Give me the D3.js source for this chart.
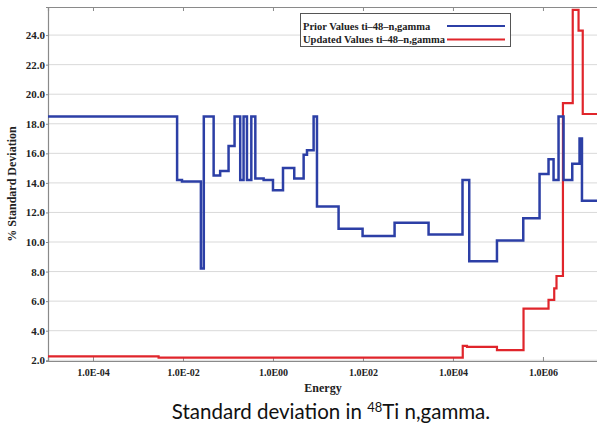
<!DOCTYPE html>
<html>
<head>
<meta charset="utf-8">
<script src="https://cdn.jsdelivr.net/npm/d3@7"></script>
<style>
  body { margin: 0; background: #fff; }
  svg { display: block; }
</style>
</head>
<body>
<div id="chart"></div>
<script>
// step data: each value holds from its energy to the next one
var priorEnergy = [1e-5, 7.4e-3, 9.5e-3, 2.5e-2, 2.9e-2, 4.8e-2, 6.7e-2, 0.103, 0.14, 0.187,
  0.222, 0.264, 0.33, 0.405, 0.62, 1.0, 1.67, 2.97, 4.8, 5.7, 8.0, 9.5, 28.7, 98, 504, 2870,
  1.63e4, 2.3e4, 9.5e4, 3.65e5, 8.4e5, 1.33e6, 1.72e6, 2.22e6, 2.87e6, 4.48e6, 6.5e6, 7.36e6, 2e7];
var priorValue = [18.5, 14.2, 14.1, 8.2, 18.5, 14.5, 14.8, 16.5, 18.5, 14.2,
  18.5, 14.2, 18.5, 14.3, 14.2, 13.5, 15.0, 14.3, 15.9, 16.2, 18.5, 12.4, 10.9, 10.4, 11.3, 10.5,
  14.2, 8.7, 10.1, 11.6, 14.6, 15.6, 14.2, 18.5, 14.2, 15.3, 17.0, 12.8, 12.8];

var updatedEnergy = [1e-5, 2.87e-3, 1.65e4, 2.05e4, 9.5e4, 3.7e5, 1.33e6, 1.78e6, 2.0e6, 2.78e6,
  4.59e6, 6.18e6, 7.66e6, 2e7];
var updatedValue = [2.26, 2.18, 2.97, 2.9, 2.69, 5.5, 6.08, 6.87, 7.7, 19.4,
  25.7, 24.3, 18.66, 18.66];

var yTicks = [2, 4, 6, 8, 10, 12, 14, 16, 18, 20, 22, 24];
var xTicks = [1e-4, 1e-2, 1, 1e2, 1e4, 1e6];
var xTickLabels = ["1.0E-04", "1.0E-02", "1.0E00", "1.0E02", "1.0E04", "1.0E06"];

var W = 597, H = 427;
var plot = {left: 48, top: 7, right: 601.5, bottom: 361};
var serif = "'Liberation Serif', 'DejaVu Serif', serif";

var svg = d3.select("#chart").append("svg")
  .attr("width", W)
  .attr("height", H);

var x = d3.scaleLog()
  .domain([1e-5, 2e7])
  .range([plot.left, plot.right]);

var y = d3.scaleLinear()
  .domain([1.95, 25.9])
  .range([plot.bottom, plot.top]);

svg.append("defs").append("clipPath").attr("id", "clip")
  .append("rect")
    .attr("x", plot.left)
    .attr("y", plot.top)
    .attr("width", plot.right - plot.left)
    .attr("height", plot.bottom - plot.top);

// horizontal grid
svg.append("g")
  .selectAll("line")
  .data(yTicks)
  .enter().append("line")
    .attr("x1", plot.left)
    .attr("x2", plot.right)
    .attr("y1", function(d) { return y(d); })
    .attr("y2", function(d) { return y(d); })
    .attr("stroke", "#d9d9d9")
    .attr("stroke-width", 1);

// left axis
var yAxis = svg.append("g")
  .attr("transform", "translate(" + plot.left + ",0)")
  .call(d3.axisLeft(y).tickValues(yTicks).tickFormat(d3.format(".1f")).tickSize(2).tickPadding(1));

// bottom axis, ticks pointing into the plot
var xAxis = svg.append("g")
  .attr("transform", "translate(0," + plot.bottom + ")")
  .call(d3.axisBottom(x).tickValues(xTicks)
    .tickFormat(function(d, i) { return xTickLabels[i]; })
    .tickSize(-4).tickPadding(8));

// top border with ticks
var topAxis = svg.append("g")
  .attr("transform", "translate(0," + plot.top + ")")
  .call(d3.axisTop(x).tickValues(xTicks).tickFormat("").tickSize(-4));

[yAxis, xAxis, topAxis].forEach(function(g) {
  g.select(".domain").attr("stroke", "#8a8a8a").attr("stroke-width", 1.2);
  g.selectAll(".tick line").attr("stroke", "#8a8a8a");
  g.selectAll(".tick text")
    .attr("fill", "#222")
    .style("font-family", serif)
    .style("font-weight", "bold")
    .style("font-size", "11px");
});
xAxis.selectAll(".tick text").style("font-size", "10px");

var line = d3.line()
  .x(function(d) { return x(d[0]); })
  .y(function(d) { return y(d[1]); })
  .curve(d3.curveStepAfter);

var lines = svg.append("g").attr("clip-path", "url(#clip)");

lines.append("path")
  .datum(d3.zip(updatedEnergy, updatedValue))
  .attr("d", line)
  .attr("fill", "none")
  .attr("stroke", "#e0252b")
  .attr("stroke-width", 2.2);

lines.append("path")
  .datum(d3.zip(priorEnergy, priorValue))
  .attr("d", line)
  .attr("fill", "none")
  .attr("stroke", "#2c3fa6")
  .attr("stroke-width", 2.5);

// legend
var legend = svg.append("g");
legend.append("rect")
  .attr("x", 300.5)
  .attr("y", 13.5)
  .attr("width", 210)
  .attr("height", 33)
  .attr("fill", "#fff")
  .attr("stroke", "#555")
  .attr("stroke-width", 1);

var legendItems = [
  {label: "Prior Values ti\u201348\u2013n,gamma", color: "#2c3fa6"},
  {label: "Updated Values ti\u201348\u2013n,gamma", color: "#e0252b"}
];
legendItems.forEach(function(d, i) {
  var cy = 26 + i * 13.5;
  legend.append("text")
    .attr("x", 303)
    .attr("y", cy + 3.5)
    .attr("fill", "#222")
    .style("font-family", serif)
    .style("font-weight", "bold")
    .style("font-size", "10.5px")
    .text(d.label);
  legend.append("line")
    .attr("x1", 447)
    .attr("x2", 505)
    .attr("y1", cy)
    .attr("y2", cy)
    .attr("stroke", d.color)
    .attr("stroke-width", 2);
});

// axis titles
svg.append("text")
  .attr("transform", "translate(16," + ((plot.top + plot.bottom) / 2) + ") rotate(-90)")
  .attr("text-anchor", "middle")
  .attr("fill", "#222")
  .style("font-family", serif)
  .style("font-weight", "bold")
  .style("font-size", "12px")
  .text("% Standard Deviation");

svg.append("text")
  .attr("x", 323)
  .attr("y", 392)
  .attr("text-anchor", "middle")
  .attr("fill", "#222")
  .style("font-family", serif)
  .style("font-weight", "bold")
  .style("font-size", "12px")
  .text("Energy");

// caption
var caption = svg.append("text")
  .attr("x", 331)
  .attr("y", 419)
  .attr("text-anchor", "middle")
  .attr("fill", "#111")
  .style("font-family", "Lato, 'Open Sans', sans-serif")
  .style("font-size", "20.5px");
caption.append("tspan").text("Standard deviation in ");
caption.append("tspan").attr("dy", -7).style("font-size", "13px").text("48");
caption.append("tspan").attr("dy", 7).text("Ti n,gamma.");
</script>
</body>
</html>
